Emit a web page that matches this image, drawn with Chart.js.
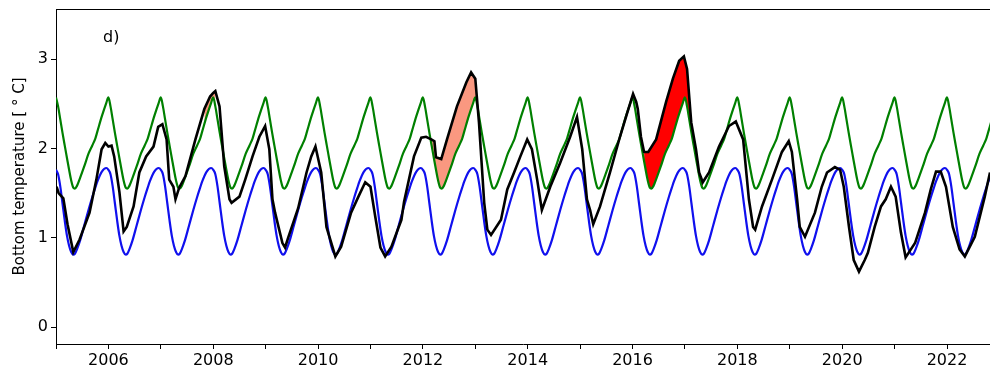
<!DOCTYPE html>
<html>
<head>
<meta charset="utf-8">
<script src="https://cdn.jsdelivr.net/npm/chart.js@4"></script>
<style>
  html, body { margin: 0; padding: 0; background: #fff; }
  #wrap { width: 990px; height: 372px; position: relative; }
</style>
</head>
<body>
<div id="wrap"><canvas id="btChart"></canvas></div>
<script>
const obsYears = [
  2005.01, 2005.05, 2005.08, 2005.14, 2005.22, 2005.33, 2005.45, 2005.64, 2005.77, 2005.87, 2005.94,
  2006.00, 2006.06, 2006.11, 2006.21, 2006.29, 2006.35, 2006.48, 2006.59, 2006.72, 2006.86, 2006.95,
  2007.03, 2007.11, 2007.16, 2007.24, 2007.28, 2007.35, 2007.47, 2007.66, 2007.83, 2007.94,
  2008.00, 2008.04, 2008.12, 2008.21, 2008.31, 2008.35, 2008.50, 2008.61, 2008.75, 2008.88, 2008.99,
  2009.07, 2009.13, 2009.18, 2009.32, 2009.37, 2009.43, 2009.62, 2009.78, 2009.87, 2009.95,
  2010.06, 2010.16, 2010.33, 2010.44, 2010.63, 2010.77, 2010.90,
  2011.00, 2011.09, 2011.19, 2011.28, 2011.40, 2011.59, 2011.64, 2011.83, 2011.97,
  2012.06, 2012.16, 2012.22, 2012.25, 2012.35, 2012.46, 2012.65, 2012.83, 2012.92,
  2013.00, 2013.07, 2013.17, 2013.23, 2013.30, 2013.49, 2013.61, 2013.74, 2013.86, 2013.99,
  2014.08, 2014.18, 2014.27, 2014.43, 2014.62, 2014.81, 2014.94,
  2015.04, 2015.13, 2015.19, 2015.25, 2015.38, 2015.57, 2015.76, 2015.90,
  2016.01, 2016.07, 2016.10, 2016.16, 2016.22, 2016.30, 2016.45, 2016.64, 2016.77, 2016.89, 2016.98,
  2017.04, 2017.12, 2017.21, 2017.27, 2017.34, 2017.46, 2017.65, 2017.84, 2017.97,
  2018.11, 2018.22, 2018.30, 2018.34, 2018.47, 2018.66, 2018.85, 2018.98,
  2019.04, 2019.14, 2019.19, 2019.29, 2019.48, 2019.61, 2019.71, 2019.86, 2019.96,
  2020.03, 2020.13, 2020.22, 2020.32, 2020.43, 2020.49, 2020.62, 2020.74, 2020.83, 2020.93,
  2021.02, 2021.12, 2021.21, 2021.39, 2021.58, 2021.69, 2021.79, 2021.88, 2021.98,
  2022.11, 2022.24, 2022.34, 2022.53, 2022.72, 2022.82
];
const obsTemp = [
  1.57, 1.50, 1.48, 1.44, 1.15, 0.84, 0.98, 1.28, 1.65, 1.99, 2.06,
  2.02, 2.03, 1.91, 1.51, 1.07, 1.12, 1.35, 1.73, 1.91, 2.02, 2.24,
  2.27, 2.10, 1.65, 1.57, 1.43, 1.56, 1.69, 2.10, 2.44, 2.58,
  2.62, 2.64, 2.47, 1.80, 1.43, 1.39, 1.46, 1.65, 1.91, 2.13, 2.25,
  1.99, 1.43, 1.28, 0.94, 0.89, 1.00, 1.33, 1.73, 1.91, 2.02,
  1.73, 1.12, 0.79, 0.90, 1.28, 1.46, 1.62,
  1.57, 1.24, 0.89, 0.79, 0.90, 1.20, 1.40, 1.91, 2.12,
  2.13, 2.10, 2.08, 1.90, 1.88, 2.10, 2.47, 2.74, 2.85,
  2.78, 2.29, 1.39, 1.09, 1.03, 1.20, 1.54, 1.73, 1.91, 2.10,
  1.99, 1.65, 1.31, 1.57, 1.84, 2.13, 2.35,
  1.99, 1.43, 1.31, 1.15, 1.35, 1.73, 2.13, 2.40,
  2.61, 2.52, 2.44, 2.13, 1.96, 1.96, 2.10, 2.52, 2.78, 2.98, 3.03,
  2.89, 2.29, 1.99, 1.73, 1.62, 1.73, 2.02, 2.25, 2.30,
  2.10, 1.43, 1.12, 1.09, 1.35, 1.65, 1.96, 2.08,
  1.96, 1.43, 1.12, 1.01, 1.28, 1.57, 1.73, 1.79, 1.76,
  1.57, 1.12, 0.75, 0.62, 0.75, 0.83, 1.12, 1.35, 1.43, 1.57,
  1.46, 1.06, 0.78, 0.94, 1.28, 1.54, 1.74, 1.74, 1.57,
  1.12, 0.87, 0.79, 1.01, 1.46, 1.73
];

// seasonal climatology, one year (fraction of year -> value)
const climPhase = [0, 0.04, 0.08, 0.125, 0.167, 0.21, 0.25, 0.29, 0.33, 0.36, 0.40, 0.46, 0.54, 0.62, 0.69, 0.75, 0.79, 0.875, 0.96];
const upperClim = [2.57, 2.47, 2.33, 2.17, 2.03, 1.89, 1.76, 1.64, 1.56, 1.55, 1.58, 1.67, 1.80, 1.94, 2.03, 2.11, 2.19, 2.36, 2.51];
const lowerClim = [1.76, 1.71, 1.58, 1.38, 1.19, 1.02, 0.91, 0.84, 0.81, 0.82, 0.87, 0.97, 1.14, 1.31, 1.45, 1.56, 1.63, 1.74, 1.78];
const climYears = [2005, 2006, 2007, 2008, 2009, 2010, 2011, 2012, 2013, 2014, 2015, 2016, 2017, 2018, 2019, 2020, 2021, 2022, 2023];

// warm events (shaded where obs > upper climatology)
const eventStart = [2007.75, 2012.15, 2016.18];
const eventEnd = [2008.10, 2013.10, 2017.40];
const eventLevel = ['moderate', 'moderate', 'strong'];

const xTicks = [2005, 2006, 2007, 2008, 2009, 2010, 2011, 2012, 2013, 2014, 2015, 2016, 2017, 2018, 2019, 2020, 2021, 2022];
const yTicks = [0, 1, 2, 3];

const levelColor = { moderate: 'rgb(250,152,128)', strong: 'rgb(255,0,0)' };

function climSeries(vals) {
    const pts = [];
    climYears.forEach(function (yr) {
        climPhase.forEach(function (t, i) {
            pts.push({ x: yr + t, y: vals[i] });
        });
    });
    return pts;
}

const obsPts = obsYears.map(function (x, i) { return { x: x, y: obsTemp[i] }; });

const datasets = [
    { label: 'obs', data: obsPts, borderColor: '#000', borderWidth: 2.6, pointRadius: 0, fill: false, order: 1 },
    { label: 'upper', data: climSeries(upperClim), borderColor: '#008000', borderWidth: 2.2, pointRadius: 0,
      cubicInterpolationMode: 'monotone', fill: false, order: 2 },
    { label: 'lower', data: climSeries(lowerClim), borderColor: '#1010ee', borderWidth: 2.2, pointRadius: 0,
      cubicInterpolationMode: 'monotone', fill: false, order: 3 }
];

eventStart.forEach(function (s, k) {
    datasets.push({
        label: 'event' + k,
        data: obsPts.filter(function (p) { return p.x >= s && p.x <= eventEnd[k]; }),
        borderWidth: 0,
        borderColor: 'rgba(0,0,0,0)',
        pointRadius: 0,
        fill: { target: 1, above: levelColor[eventLevel[k]], below: 'rgba(0,0,0,0)' },
        order: 4
    });
});

const frame = {
    id: 'frame',
    afterDraw: function (chart) {
        const a = chart.chartArea, c = chart.ctx;
        c.save();
        c.strokeStyle = '#000';
        c.lineWidth = 1;
        c.beginPath();
        c.moveTo(a.left, a.top + 0.5);
        c.lineTo(a.right, a.top + 0.5);
        c.stroke();
        c.fillStyle = '#000';
        c.font = '16px "DejaVu Sans"';
        c.textBaseline = 'middle';
        c.fillText('d)', a.left + 47, a.top + 29);
        c.restore();
    }
};

new Chart(document.getElementById('btChart'), {
    type: 'line',
    data: { datasets: datasets },
    options: {
        responsive: true,
        maintainAspectRatio: false,
        animation: false,
        events: [],
        layout: { padding: { top: 9, right: 0, left: 0, bottom: 0 } },
        plugins: { legend: { display: false }, tooltip: { enabled: false } },
        scales: {
            x: {
                type: 'linear',
                min: 2005,
                max: 2022.82,
                afterBuildTicks: function (s) { s.ticks = xTicks.map(function (v) { return { value: v }; }); },
                afterFit: function (s) { s.height = 28; s.paddingLeft = 0; s.paddingRight = 0; },
                ticks: {
                    color: '#000',
                    font: { family: 'DejaVu Sans', size: 16 },
                    padding: 2,
                    maxRotation: 0,
                    autoSkip: false,
                    callback: function (v) { return v % 2 === 0 ? String(v) : ''; }
                },
                grid: { drawOnChartArea: false, drawTicks: true, tickLength: 5, tickColor: '#000' },
                border: { color: '#000', width: 1 }
            },
            y: {
                min: -0.19,
                max: 3.56,
                afterBuildTicks: function (s) { s.ticks = yTicks.map(function (v) { return { value: v }; }); },
                afterFit: function (s) { s.width = 56; s.paddingTop = 0; s.paddingBottom = 0; },
                ticks: { color: '#000', font: { family: 'DejaVu Sans', size: 16 }, padding: 3 },
                grid: { drawOnChartArea: false, drawTicks: true, tickLength: 5, tickColor: '#000' },
                border: { color: '#000', width: 1 },
                title: {
                    display: true,
                    text: 'Bottom temperature [ ° C]',
                    color: '#000',
                    font: { family: 'DejaVu Sans', size: 15 },
                    padding: { top: 11, bottom: 0 }
                }
            }
        }
    },
    plugins: [frame]
});
</script>
</body>
</html>
